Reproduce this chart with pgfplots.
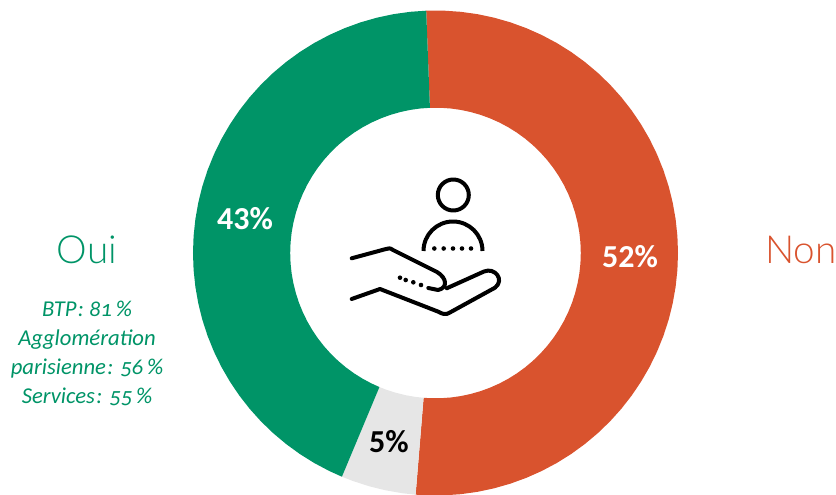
\documentclass[border=0pt]{standalone}
\usepackage{pgfplots}
\pgfplotsset{compat=1.18}
\usepgfplotslibrary{polar}
\usepackage{fontspec}
\setmainfont{Carlito}
\newfontfamily\oldnum[Numbers=OldStyle]{Carlito}
\newfontfamily\lightf{Lato Light}
\definecolor{vert}{HTML}{009467}
\definecolor{rouge}{HTML}{D9532E}
\definecolor{gris}{HTML}{E6E6E6}
\begin{document}
\begin{tikzpicture}
\path[use as bounding box] (0,0) rectangle (627pt,-371.25pt);
\begin{polaraxis}[
  hide axis, scale only axis, width=363.75pt, height=363.75pt,
  at={(326.625pt,-189.75pt)}, anchor=center,
  xmin=0, xmax=360, ymin=0, ymax=242, clip=false]
% Non 52 %
\addplot[fill=rouge, draw=none] coordinates {
(92.2,242)(88,242)(84,242)(80,242)(76,242)(72,242)(68,242)(64,242)(60,242)(56,242)(52,242)(48,242)(44,242)(40,242)(36,242)(32,242)(28,242)(24,242)(20,242)(16,242)(12,242)(8,242)(4,242)(0,242)(-4,242)(-8,242)(-12,242)(-16,242)(-20,242)(-24,242)(-28,242)(-32,242)(-36,242)(-40,242)(-44,242)(-48,242)(-52,242)(-56,242)(-60,242)(-64,242)(-68,242)(-72,242)(-76,242)(-80,242)(-84,242)(-88,242)(-92,242)(-94.7,242)
(-94.7,145)(-92,145)(-88,145)(-84,145)(-80,145)(-76,145)(-72,145)(-68,145)(-64,145)(-60,145)(-56,145)(-52,145)(-48,145)(-44,145)(-40,145)(-36,145)(-32,145)(-28,145)(-24,145)(-20,145)(-16,145)(-12,145)(-8,145)(-4,145)(0,145)(4,145)(8,145)(12,145)(16,145)(20,145)(24,145)(28,145)(32,145)(36,145)(40,145)(44,145)(48,145)(52,145)(56,145)(60,145)(64,145)(68,145)(72,145)(76,145)(80,145)(84,145)(88,145)(92.2,145)
} -- cycle;
% sans reponse 5 %
\addplot[fill=gris, draw=none] coordinates {
(-94.7,242)(-98,242)(-102,242)(-106,242)(-110,242)(-112.7,242)
(-112.7,145)(-110,145)(-106,145)(-102,145)(-98,145)(-94.7,145)
} -- cycle;
% Oui 43 %
\addplot[fill=vert, draw=none] coordinates {
(-112.7,242)(-116,242)(-120,242)(-124,242)(-128,242)(-132,242)(-136,242)(-140,242)(-144,242)(-148,242)(-152,242)(-156,242)(-160,242)(-164,242)(-168,242)(-172,242)(-176,242)(-180,242)(-184,242)(-188,242)(-192,242)(-196,242)(-200,242)(-204,242)(-208,242)(-212,242)(-216,242)(-220,242)(-224,242)(-228,242)(-232,242)(-236,242)(-240,242)(-244,242)(-248,242)(-252,242)(-256,242)(-260,242)(-264,242)(-267.8,242)
(-267.8,145)(-264,145)(-260,145)(-256,145)(-252,145)(-248,145)(-244,145)(-240,145)(-236,145)(-232,145)(-228,145)(-224,145)(-220,145)(-216,145)(-212,145)(-208,145)(-204,145)(-200,145)(-196,145)(-192,145)(-188,145)(-184,145)(-180,145)(-176,145)(-172,145)(-168,145)(-164,145)(-160,145)(-156,145)(-152,145)(-148,145)(-144,145)(-140,145)(-136,145)(-132,145)(-128,145)(-124,145)(-120,145)(-116,145)(-112.7,145)
} -- cycle;
\end{polaraxis}
\begin{scope}[x=0.75pt,y=-0.75pt]
% labels
\node[white,font=\fontsize{24}{24}\selectfont\bfseries,anchor=base] at (245,230) {43\%};
\node[white,font=\fontsize{24}{24}\selectfont\bfseries,anchor=base] at (630,268) {52\%};
\node[black,font=\fontsize{24}{24}\selectfont\bfseries,anchor=base] at (389,453) {5\%};
\node[vert,font=\fontsize{29}{29}\selectfont\lightf,anchor=base] at (87,264) {Oui};
\node[rouge,font=\fontsize{29}{29}\selectfont\lightf,anchor=base west,inner xsep=0pt] at (765,264) {Non};
\begin{scope}[vert,font=\fontsize{17}{17}\selectfont\oldnum\itshape]
\node[anchor=base] at (87,316.5) {BTP\kern1pt: 81\,\%};
\node[anchor=base] at (87,346) {Agglomération};
\node[anchor=base] at (87,375) {parisienne\kern1pt: 56\,\%};
\node[anchor=base] at (87,403) {Services\kern1pt: 55\,\%};
\end{scope}
% icon
\begin{scope}[black,line width=3pt,line cap=round,line join=round]
\draw (453.3,195) circle[radius=15.5];
\draw[line cap=butt] (423.5,251) arc[start angle=180,end angle=360,radius=29.5];
\foreach \x in {434.3,443.7,453,462,471} \fill (\x,248.5) circle[radius=2.3];
\foreach \x/\y in {400/277.7,405.7/280,413.3/282.3,421/285} \fill (\x,\y) circle[radius=2.3];
\draw (351.7,258.3) -- (386,249) .. controls (389,248) and (390,248) .. (393,250) -- (437,272) .. controls (447,278) and (448,288) .. (438,290) -- (428.3,288);
\draw (446.7,288.3) -- (484,271.5) .. controls (495,267) and (505,280) .. (495,287.7) -- (449,313) .. controls (446,315) and (442,314) .. (438.3,311.7) -- (380,289) -- (351.7,299);
\end{scope}
\end{scope}
\end{tikzpicture}
\end{document}
